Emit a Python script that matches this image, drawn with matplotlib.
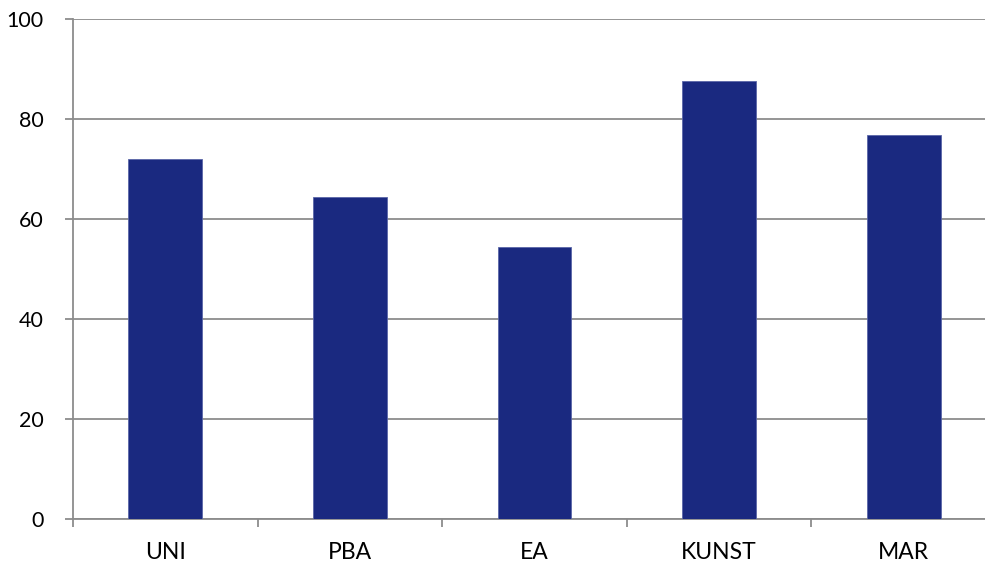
import matplotlib.pyplot as plt
import numpy as np

# schools and their scores
categories = ["UNI", "PBA", "EA", "KUNST", "MAR"]
scores = [72.0, 64.4, 54.4, 87.7, 76.9]

plt.rcParams['font.family'] = ['Lato', 'DejaVu Sans']

fig = plt.figure(figsize=(9.85, 5.65), dpi=100)
ax = fig.add_axes([73 / 985, 1 - 519.3 / 565, 923 / 985, 500 / 565])

x = np.arange(len(categories))
ax.bar(x, scores, width=0.4, color="#1A2980", edgecolor="#5A66A8", linewidth=0.6, zorder=3)

ax.set_xlim(-0.5, len(categories) - 0.5)
ax.set_ylim(0, 100)
ax.set_yticks(range(0, 101, 20))
ax.yaxis.grid(True, color="#8C8C8C", linewidth=1.3, zorder=0)

# ticks on the x axis sit between the categories
ax.set_xticks(np.arange(-0.5, len(categories), 1.0))
ax.set_xticklabels([])
ax.set_xticks(x, minor=True)
ax.set_xticklabels(categories, minor=True)
ax.tick_params(axis="x", which="major", length=6, width=1.3, color="#8C8C8C", direction="out")
ax.tick_params(axis="x", which="minor", length=0, pad=16, labelsize=16.5)
ax.tick_params(axis="y", length=6, width=1.3, color="#8C8C8C", pad=15, labelsize=15.5)

for side in ["top", "right"]:
    ax.spines[side].set_visible(False)
for side in ["left", "bottom"]:
    ax.spines[side].set_color("#8C8C8C")
    ax.spines[side].set_linewidth(1.3)

fig.savefig("out.png", dpi=100)
